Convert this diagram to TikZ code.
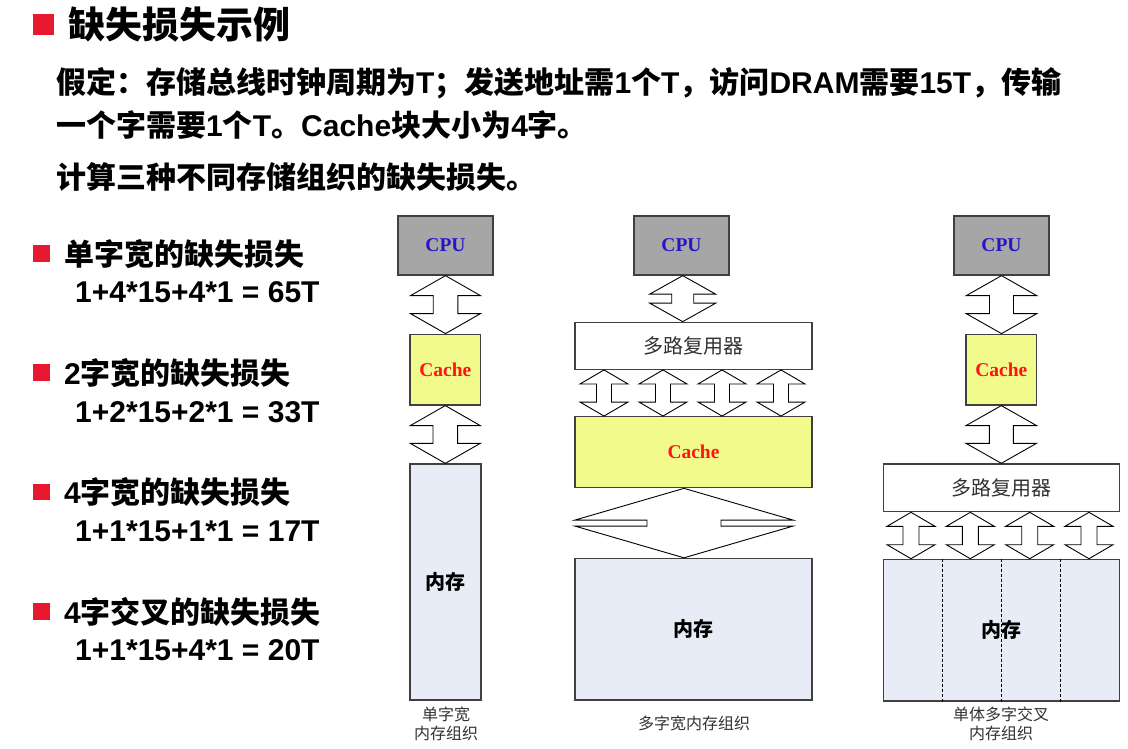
\documentclass[tikz,border=0pt]{standalone}
\usepackage{fontspec}
\setmainfont{Liberation Sans}
\newfontfamily\cjk{Noto Sans CJK SC}
\newfontfamily\serifrm{Liberation Serif}
\usetikzlibrary{calc}

% CJK run inside Latin text
\newcommand\zh[1]{{\cjk #1}}

\definecolor{boxline}{RGB}{64,64,64}
\definecolor{cpugray}{RGB}{166,166,166}
\definecolor{cpublue}{RGB}{40,20,200}
\definecolor{cacheyellow}{RGB}{242,250,140}
\definecolor{cachered}{RGB}{255,20,20}
\definecolor{memblue}{RGB}{232,236,246}
\definecolor{bulletred}{RGB}{232,24,48}
\definecolor{captiontext}{RGB}{50,50,50}

% double-headed bus arrow: #1 axis point, #2 upper anchor, #3 lower anchor,
% #4 head half width, #5 shaft half width, #6 head length
\newcommand\busarrow[6]{%
  \draw[bus] let \p1=(#2), \p2=(#3), \p3=(#1) in
    (\x3,\y1) -- (\x3+#4pt,\y1-#6pt) -- (\x3+#5pt,\y1-#6pt) --
    (\x3+#5pt,\y2+#6pt) -- (\x3+#4pt,\y2+#6pt) -- (\x3,\y2) --
    (\x3-#4pt,\y2+#6pt) -- (\x3-#5pt,\y2+#6pt) -- (\x3-#5pt,\y1-#6pt) --
    (\x3-#4pt,\y1-#6pt) -- cycle;}

\tikzset{
  bus/.style={draw=black, fill=white, line width=0.9pt, line join=miter},
  unit/.style={draw=boxline, line width=1.3pt, inner sep=0pt},
  cpubox/.style={unit, fill=cpugray, minimum width=95pt, minimum height=59pt,
    text=cpublue, font=\serifrm\bfseries\fontsize{19.5}{22}\selectfont},
  cachebox/.style={unit, fill=cacheyellow, text=cachered,
    font=\serifrm\bfseries\fontsize{19.5}{22}\selectfont},
  membox/.style={unit, fill=memblue, font=\cjk\bfseries\fontsize{20}{22}\selectfont},
  muxbox/.style={unit, fill=white, text=captiontext,
    font=\cjk\fontsize{20}{22}\selectfont},
  caption/.style={inner sep=0pt, align=center, text=captiontext,
    font=\cjk\fontsize{16}{19}\selectfont},
  bullet/.style={fill=bulletred, draw=none, inner sep=0pt, minimum size=#1},
  headline/.style={anchor=west, inner sep=0pt, font=\bfseries\fontsize{37}{40}\selectfont},
  bodyline/.style={anchor=west, inner sep=0pt, font=\bfseries\fontsize{30}{34}\selectfont},
  divider/.style={draw=black, line width=0.8pt, dash pattern=on 3pt off 2pt}
}

\begin{document}
\begin{tikzpicture}[x=1pt,y=-1pt]
\useasboundingbox[fill=white] (0,0) rectangle (1128,748);

% ---- heading and problem statement ----
\node[bullet=21pt] (hb) at (43.8,24.5) {};
\node[headline] (title) at (68,25) {\zh{缺失损失示例}};
\node[bodyline] (s1) at (56,83) {\zh{假定：存储总线时钟周期为}T\zh{；发送地址需}1\zh{个}T\zh{，访问}DRAM\zh{需要}15T\zh{，传输}};
\node[bodyline] (s2) at (56,125) {\zh{一个字需要}1\zh{个}T\zh{。}Cache\zh{块大小为}4\zh{字。}};
\node[bodyline] (s3) at (56,177) {\zh{计算三种不同存储组织的缺失损失。}};

% ---- results list ----
\node[bullet=16.7pt] (b1) at (41.7,253.3) {};
\node[bodyline] (r1) at (64,254) {\zh{单字宽的缺失损失}};
\node[bodyline] (f1) at (75,292.5) {1+4*15+4*1 = 65T};

\node[bullet=16.7pt] (b2) at (41.7,372.5) {};
\node[bodyline] (r2) at (64,373) {2\zh{字宽的缺失损失}};
\node[bodyline] (f2) at (75,412) {1+2*15+2*1 = 33T};

\node[bullet=16.7pt] (b3) at (41.7,492) {};
\node[bodyline] (r3) at (64,492.5) {4\zh{字宽的缺失损失}};
\node[bodyline] (f3) at (75,531.5) {1+1*15+1*1 = 17T};

\node[bullet=16.7pt] (b4) at (41.7,611.5) {};
\node[bodyline] (r4) at (64,612) {4\zh{字交叉的缺失损失}};
\node[bodyline] (f4) at (75,650) {1+1*15+4*1 = 20T};

% ---- single-word-wide organisation ----
\node[cpubox] (cpu1) at (445.5,245.5) {CPU};
\node[cachebox, minimum width=70.7pt, minimum height=70.7pt] (cache1) at (445.3,369.6) {Cache};
\node[membox, minimum width=71pt, minimum height=236pt] (mem1) at (445.5,582) {内存};
\node[caption] (cap1) at (446,724) {单字宽\\内存组织};
\busarrow{cpu1.south}{cpu1.south}{cache1.north}{35}{12.3}{20}
\busarrow{cache1.south}{cache1.south}{mem1.north}{35}{12.3}{20}

% ---- multi-word-wide organisation ----
\node[cpubox] (cpu2) at (681.5,245.5) {CPU};
\node[muxbox, minimum width=237pt, minimum height=47pt] (mux2) at (693.5,345.8) {多路复用器};
\node[cachebox, minimum width=237pt, minimum height=71pt] (cache2) at (693.5,452.2) {Cache};
\node[membox, minimum width=237pt, minimum height=141.5pt] (mem2) at (693.5,629.2) {内存};
\node[caption] (cap2) at (694,723.5) {多字宽内存组织};
\busarrow{682.7,0}{cpu2.south}{mux2.north}{33}{11}{18.5}
\busarrow{604,0}{mux2.south}{cache2.north}{24}{7.5}{14}
\busarrow{663,0}{mux2.south}{cache2.north}{24}{7.5}{14}
\busarrow{722,0}{mux2.south}{cache2.north}{24}{7.5}{14}
\busarrow{781,0}{mux2.south}{cache2.north}{24}{7.5}{14}
\busarrow{684,0}{cache2.south}{mem2.north}{109}{37}{31.7}

% ---- interleaved organisation ----
\node[cpubox] (cpu3) at (1001.5,245.5) {CPU};
\node[cachebox, minimum width=70.7pt, minimum height=70.7pt] (cache3) at (1001.3,369.6) {Cache};
\node[muxbox, minimum width=236pt, minimum height=47.7pt] (mux3) at (1001.3,487.8) {多路复用器};
\node[membox, minimum width=236pt, minimum height=141.7pt] (mem3) at (1001.3,630.2) {};
\foreach \f in {0.25,0.5,0.75}
  \draw[divider] ($(mem3.north west)!\f!(mem3.north east)$) -- ($(mem3.south west)!\f!(mem3.south east)$);
\node[inner sep=0pt, font=\cjk\bfseries\fontsize{20}{22}\selectfont] (mem3t) at (mem3.center) {内存};
\node[caption] (cap3) at (1001,724) {单体多字交叉\\内存组织};
\busarrow{cpu3.south}{cpu3.south}{cache3.north}{35.3}{12}{20}
\busarrow{cache3.south}{cache3.south}{mux3.north}{35.3}{12}{20}
\busarrow{911,0}{mux3.south}{mem3.north}{24}{8}{14}
\busarrow{970.3,0}{mux3.south}{mem3.north}{24}{8}{14}
\busarrow{1029.7,0}{mux3.south}{mem3.north}{24}{8}{14}
\busarrow{1089,0}{mux3.south}{mem3.north}{24}{8}{14}
\end{tikzpicture}
\end{document}
